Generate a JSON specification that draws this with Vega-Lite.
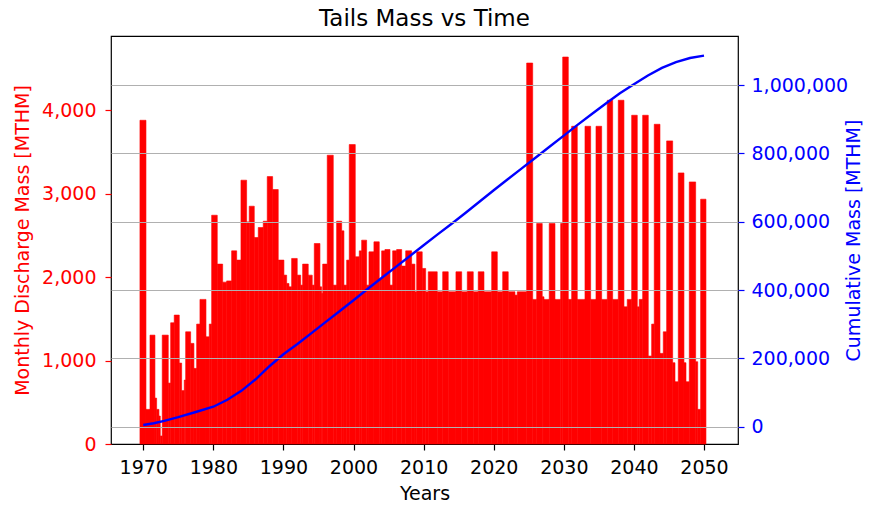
{
  "$schema": "https://vega.github.io/schema/vega-lite/v6.json",
  "autosize": {"type": "none"},
  "padding": {"left": 111, "top": 36, "right": 131, "bottom": 62},
  "width": 627,
  "height": 408,
  "title": {"text": "Tails Mass vs Time", "fontSize": 23, "font": "DejaVu Sans", "fontWeight": "normal", "color": "black", "offset": 5},
  "config": {
    "view": {"stroke": "black", "strokeWidth": 1.2},
    "font": "DejaVu Sans",
    "axis": {"labelFont": "DejaVu Sans", "titleFont": "DejaVu Sans", "labelFontSize": 19, "titleFontSize": 19, "titleFontWeight": "normal", "domain": false, "tickSize": 6, "tickWidth": 1.2, "labelPadding": 6}
  },
  "datasets": {
    "monthly": [
      {"start": 1969.53, "end": 1970.39, "mass": 3880},
      {"start": 1970.39, "end": 1970.96, "mass": 415},
      {"start": 1970.96, "end": 1971.67, "mass": 1305},
      {"start": 1971.67, "end": 1971.91, "mass": 550},
      {"start": 1971.91, "end": 1972.24, "mass": 415},
      {"start": 1972.24, "end": 1972.43, "mass": 335},
      {"start": 1972.43, "end": 1972.71, "mass": 96},
      {"start": 1972.71, "end": 1973.57, "mass": 1305},
      {"start": 1973.57, "end": 1973.91, "mass": 730},
      {"start": 1973.91, "end": 1974.42, "mass": 1453},
      {"start": 1974.42, "end": 1975.14, "mass": 1545},
      {"start": 1975.14, "end": 1975.48, "mass": 970},
      {"start": 1975.48, "end": 1975.85, "mass": 640},
      {"start": 1975.85, "end": 1976.05, "mass": 766},
      {"start": 1976.05, "end": 1976.76, "mass": 1345},
      {"start": 1976.76, "end": 1977.23, "mass": 1206},
      {"start": 1977.23, "end": 1977.62, "mass": 906},
      {"start": 1977.62, "end": 1978.09, "mass": 1437},
      {"start": 1978.09, "end": 1978.95, "mass": 1733},
      {"start": 1978.95, "end": 1979.42, "mass": 1285},
      {"start": 1979.42, "end": 1979.76, "mass": 1437},
      {"start": 1979.76, "end": 1980.56, "mass": 2742},
      {"start": 1980.56, "end": 1981.33, "mass": 2156},
      {"start": 1981.33, "end": 1981.9, "mass": 1940},
      {"start": 1981.9, "end": 1982.61, "mass": 1955},
      {"start": 1982.61, "end": 1983.33, "mass": 2315},
      {"start": 1983.33, "end": 1983.94, "mass": 2204},
      {"start": 1983.94, "end": 1984.75, "mass": 3162},
      {"start": 1984.75, "end": 1985.12, "mass": 2662},
      {"start": 1985.12, "end": 1985.84, "mass": 2850},
      {"start": 1985.84, "end": 1986.41, "mass": 2475},
      {"start": 1986.41, "end": 1987.12, "mass": 2595},
      {"start": 1987.12, "end": 1987.69, "mass": 2670},
      {"start": 1987.69, "end": 1988.46, "mass": 3205},
      {"start": 1988.46, "end": 1989.26, "mass": 3050},
      {"start": 1989.26, "end": 1990.07, "mass": 2204},
      {"start": 1990.07, "end": 1990.46, "mass": 2024},
      {"start": 1990.46, "end": 1990.79, "mass": 1924},
      {"start": 1990.79, "end": 1991.17, "mass": 1884},
      {"start": 1991.17, "end": 1991.97, "mass": 2224},
      {"start": 1991.97, "end": 1992.46, "mass": 2024},
      {"start": 1992.46, "end": 1992.74, "mass": 1904},
      {"start": 1992.74, "end": 1993.54, "mass": 2156},
      {"start": 1993.54, "end": 1994.11, "mass": 2024},
      {"start": 1994.11, "end": 1994.4, "mass": 1904},
      {"start": 1994.4, "end": 1995.21, "mass": 2403},
      {"start": 1995.21, "end": 1995.45, "mass": 1884},
      {"start": 1995.45, "end": 1995.6, "mass": 1804},
      {"start": 1995.6, "end": 1996.25, "mass": 2156},
      {"start": 1996.25, "end": 1997.11, "mass": 3461},
      {"start": 1997.11, "end": 1997.59, "mass": 1904},
      {"start": 1997.59, "end": 1998.31, "mass": 2670},
      {"start": 1998.31, "end": 1998.63, "mass": 2555},
      {"start": 1998.63, "end": 1999.02, "mass": 1904},
      {"start": 1999.02, "end": 1999.39, "mass": 2204},
      {"start": 1999.39, "end": 2000.25, "mass": 3589},
      {"start": 2000.25, "end": 2000.82, "mass": 2244},
      {"start": 2000.82, "end": 2001.16, "mass": 2315},
      {"start": 2001.16, "end": 2001.87, "mass": 2443},
      {"start": 2001.87, "end": 2002.2, "mass": 1904},
      {"start": 2002.2, "end": 2002.91, "mass": 2303},
      {"start": 2002.91, "end": 2003.67, "mass": 2423},
      {"start": 2003.67, "end": 2004.01, "mass": 1984},
      {"start": 2004.01, "end": 2004.48, "mass": 2315},
      {"start": 2004.48, "end": 2005.2, "mass": 2331},
      {"start": 2005.2, "end": 2005.58, "mass": 1904},
      {"start": 2005.58, "end": 2006.15, "mass": 2315},
      {"start": 2006.15, "end": 2006.87, "mass": 2331},
      {"start": 2006.87, "end": 2007.44, "mass": 2132},
      {"start": 2007.44, "end": 2008.29, "mass": 2315},
      {"start": 2008.29, "end": 2008.76, "mass": 2156},
      {"start": 2008.76, "end": 2009.01, "mass": 1824},
      {"start": 2009.01, "end": 2009.8, "mass": 2303},
      {"start": 2009.8, "end": 2010.29, "mass": 2104},
      {"start": 2010.29, "end": 2010.66, "mass": 1824},
      {"start": 2010.66, "end": 2011.94, "mass": 2064},
      {"start": 2011.94, "end": 2012.72, "mass": 1824},
      {"start": 2012.72, "end": 2013.51, "mass": 2064},
      {"start": 2013.51, "end": 2014.61, "mass": 1824},
      {"start": 2014.61, "end": 2015.43, "mass": 2064},
      {"start": 2015.43, "end": 2016.23, "mass": 1824},
      {"start": 2016.23, "end": 2017.08, "mass": 2064},
      {"start": 2017.08, "end": 2017.79, "mass": 1824},
      {"start": 2017.79, "end": 2018.61, "mass": 2064},
      {"start": 2018.61, "end": 2019.71, "mass": 1824},
      {"start": 2019.71, "end": 2020.51, "mass": 2303},
      {"start": 2020.51, "end": 2021.28, "mass": 1824},
      {"start": 2021.28, "end": 2022.07, "mass": 2064},
      {"start": 2022.07, "end": 2023.03, "mass": 1824},
      {"start": 2023.03, "end": 2023.36, "mass": 1784},
      {"start": 2023.36, "end": 2024.7, "mass": 1824},
      {"start": 2024.7, "end": 2025.56, "mass": 4566},
      {"start": 2025.56, "end": 2026.13, "mass": 1733},
      {"start": 2026.13, "end": 2026.92, "mass": 2643},
      {"start": 2026.92, "end": 2027.17, "mass": 1764},
      {"start": 2027.17, "end": 2027.92, "mass": 1733},
      {"start": 2027.92, "end": 2028.74, "mass": 2643},
      {"start": 2028.74, "end": 2029.55, "mass": 1733},
      {"start": 2029.55, "end": 2029.84, "mass": 2643},
      {"start": 2029.84, "end": 2030.64, "mass": 4638},
      {"start": 2030.64, "end": 2031.12, "mass": 1733},
      {"start": 2031.12, "end": 2031.92, "mass": 3808},
      {"start": 2031.92, "end": 2033.02, "mass": 1733},
      {"start": 2033.02, "end": 2033.83, "mass": 3808},
      {"start": 2033.83, "end": 2034.59, "mass": 1733},
      {"start": 2034.59, "end": 2035.4, "mass": 3808},
      {"start": 2035.4, "end": 2036.2, "mass": 1733},
      {"start": 2036.2, "end": 2036.97, "mass": 4120},
      {"start": 2036.97, "end": 2037.77, "mass": 1733},
      {"start": 2037.77, "end": 2038.58, "mass": 4120},
      {"start": 2038.58, "end": 2039.05, "mass": 1644},
      {"start": 2039.05, "end": 2039.68, "mass": 1733},
      {"start": 2039.68, "end": 2040.48, "mass": 3940},
      {"start": 2040.48, "end": 2040.76, "mass": 1644},
      {"start": 2040.76, "end": 2041.25, "mass": 1733},
      {"start": 2041.25, "end": 2042.05, "mass": 3940},
      {"start": 2042.05, "end": 2042.53, "mass": 1054},
      {"start": 2042.53, "end": 2042.9, "mass": 1437},
      {"start": 2042.9, "end": 2043.72, "mass": 3832},
      {"start": 2043.72, "end": 2044.19, "mass": 1086},
      {"start": 2044.19, "end": 2044.67, "mass": 1345},
      {"start": 2044.67, "end": 2045.53, "mass": 3633},
      {"start": 2045.53, "end": 2045.86, "mass": 974},
      {"start": 2045.86, "end": 2046.33, "mass": 746},
      {"start": 2046.33, "end": 2047.14, "mass": 3249},
      {"start": 2047.14, "end": 2047.43, "mass": 974},
      {"start": 2047.43, "end": 2047.9, "mass": 746},
      {"start": 2047.9, "end": 2048.81, "mass": 3141},
      {"start": 2048.81, "end": 2049.1, "mass": 986},
      {"start": 2049.1, "end": 2049.52, "mass": 415},
      {"start": 2049.52, "end": 2050.28, "mass": 2934}
    ],
    "cumulative": [
      {"year": 1970.0, "total": 5000},
      {"year": 1971.5, "total": 10000},
      {"year": 1973.0, "total": 17000},
      {"year": 1975.0, "total": 28000},
      {"year": 1977.5, "total": 43000},
      {"year": 1980.0, "total": 58500},
      {"year": 1982.0, "total": 79000},
      {"year": 1984.0, "total": 105000},
      {"year": 1986.0, "total": 138000},
      {"year": 1988.0, "total": 177000},
      {"year": 1990.0, "total": 212000},
      {"year": 1992.0, "total": 242000},
      {"year": 1994.0, "total": 274000},
      {"year": 1996.0, "total": 306000},
      {"year": 1998.0, "total": 338000},
      {"year": 2000.0, "total": 370000},
      {"year": 2002.0, "total": 403000},
      {"year": 2004.0, "total": 435000},
      {"year": 2006.0, "total": 467000},
      {"year": 2008.0, "total": 499000},
      {"year": 2010.0, "total": 531000},
      {"year": 2012.0, "total": 563000},
      {"year": 2014.0, "total": 594000},
      {"year": 2016.0, "total": 626000},
      {"year": 2018.0, "total": 659000},
      {"year": 2020.0, "total": 692000},
      {"year": 2022.0, "total": 724000},
      {"year": 2024.0, "total": 756000},
      {"year": 2026.0, "total": 788000},
      {"year": 2028.0, "total": 820000},
      {"year": 2030.0, "total": 852000},
      {"year": 2032.0, "total": 884000},
      {"year": 2034.0, "total": 915000},
      {"year": 2036.0, "total": 946000},
      {"year": 2038.0, "total": 976000},
      {"year": 2040.0, "total": 1002000},
      {"year": 2042.0, "total": 1028000},
      {"year": 2044.0, "total": 1050000},
      {"year": 2046.0, "total": 1067000},
      {"year": 2048.0, "total": 1079000},
      {"year": 2050.0, "total": 1086000}
    ]
  },
  "layer": [
    {
      "data": {"name": "monthly"},
      "mark": {"type": "rect", "color": "#ff0000", "stroke": "#ff0000", "strokeWidth": 0.6},
      "encoding": {
        "x": {"field": "start", "type": "quantitative", "scale": {"domain": [1965.4, 2054.85], "nice": false, "zero": false},
              "axis": {"title": "Years", "values": [1970, 1980, 1990, 2000, 2010, 2020, 2030, 2040, 2050], "format": "d", "grid": false, "labelColor": "black", "tickColor": "black", "titleColor": "black", "labelPadding": 8, "titlePadding": 7}},
        "x2": {"field": "end"},
        "y": {"field": "mass", "type": "quantitative", "scale": {"domain": [0, 4890], "nice": false},
              "axis": {"orient": "left", "title": "Monthly Discharge Mass [MTHM]", "values": [0, 1000, 2000, 3000, 4000], "format": ",d", "grid": false, "labelColor": "#ff0000", "tickColor": "#ff0000", "titleColor": "#ff0000", "labelPadding": 9, "titlePadding": 9}},
        "y2": {"datum": 0}
      }
    },
    {
      "data": {"name": "cumulative"},
      "mark": {"type": "line", "color": "#0000ff", "strokeWidth": 2.4},
      "encoding": {
        "x": {"field": "year", "type": "quantitative"},
        "y": {"field": "total", "type": "quantitative", "scale": {"domain": [-50600, 1143400], "nice": false, "zero": false},
              "axis": {"orient": "right", "title": "Cumulative Mass [MTHM]", "titleAngle": 270, "values": [0, 200000, 400000, 600000, 800000, 1000000], "format": ",d", "grid": true, "gridColor": "#b0b0b0", "gridWidth": 1.2, "zindex": 1, "labelColor": "#0000ff", "tickColor": "#0000ff", "titleColor": "#0000ff", "labelPadding": 7, "titlePadding": 16}}
      }
    }
  ],
  "resolve": {"scale": {"y": "independent"}}
}
